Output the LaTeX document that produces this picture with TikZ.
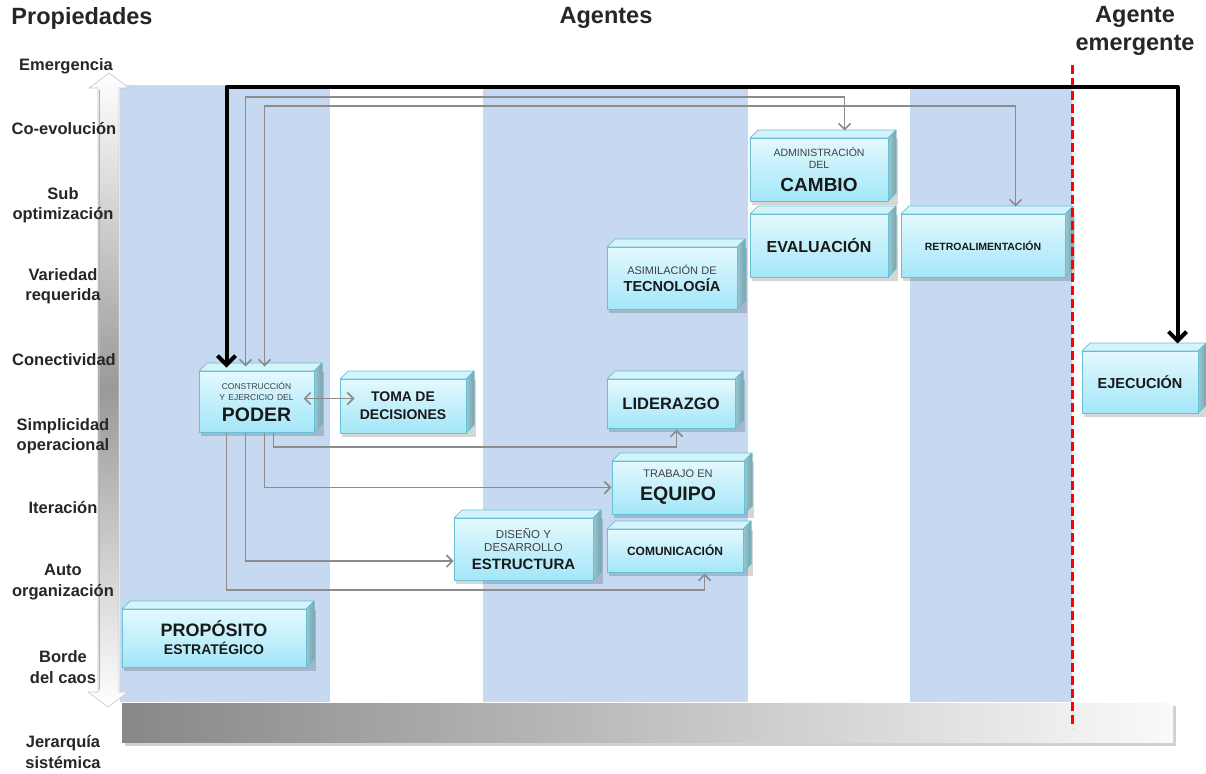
\documentclass[tikz,border=0pt]{standalone}
\usepackage{fontspec}
\setmainfont{Liberation Sans}
\usetikzlibrary{arrows.meta,calc}

\definecolor{colbg}{RGB}{198,217,240}
\definecolor{facetop}{RGB}{228,249,254}
\definecolor{facebot}{RGB}{163,230,248}
\definecolor{faceedge}{RGB}{104,192,214}
\definecolor{sidecol}{RGB}{152,202,212}
\definecolor{topcol}{RGB}{212,244,251}
\definecolor{linkgray}{RGB}{140,140,140}
\definecolor{txtdark}{RGB}{25,25,25}

\newcommand\fs[2]{\fontsize{#1}{#2}\selectfont}

% 3D box: name, x1, y1, x2, y2 (front face), content
\newcommand\cubebox[6]{%
  \pgfmathsetmacro\cbw{#4-#2}%
  \pgfmathsetmacro\cbh{#5-#3}%
  \fill[black,opacity=0.16] ({#2+2},{#3+1}) rectangle ({#4+10},{#5+4});
  \filldraw[cubetopface] (#2,#3) -- ({#2+8},{#3-8}) -- ({#4+8},{#3-8}) -- (#4,#3) -- cycle;
  \filldraw[cubesideface] (#4,#3) -- ({#4+8},{#3-8}) -- ({#4+8},{#5-8}) -- (#4,#5) -- cycle;
  \node[cubeface, minimum width=\cbw pt, minimum height=\cbh pt, text width=\cbw pt-2pt]
    (#1) at ({(#2+#4)/2},{(#3+#5)/2}) {#6\par};
}

\tikzset{
  cubetopface/.style={fill=topcol, draw=faceedge, line width=0.7pt, line join=round},
  cubesideface/.style={left color=sidecol, right color=sidecol!80!black, draw=faceedge, line width=0.7pt, line join=round},
  cubeface/.style={rectangle, top color=facetop, bottom color=facebot, draw=faceedge,
    line width=1pt, inner sep=0pt, align=center, text=txtdark},
  hdr/.style={font=\fs{23.5}{28}\bfseries, text=black!85, align=center, inner sep=0pt},
  prop/.style={font=\fs{16.5}{20.5}\bfseries, text=black!85, align=center, inner sep=0pt},
  link/.style={draw=linkgray, line width=1.6pt},
  linkarrow/.style={link, -{Straight Barb[length=6pt,width=12pt]}},
  linkboth/.style={link, {Straight Barb[length=6pt,width=12pt]}-{Straight Barb[length=6pt,width=12pt]}},
  mainlink/.style={draw=black, line width=4pt, line join=round,
    {Straight Barb[length=9pt,width=18pt]}-{Straight Barb[length=9pt,width=18pt]}},
}

\begin{document}
\begin{tikzpicture}[x=1pt,y=-1pt]
\useasboundingbox[fill=white] (0,0) rectangle (1206,773);

% agent bands
\fill[colbg] (120,85) rectangle (330,702);
\fill[colbg] (483,85) rectangle (748,702);
\fill[colbg] (910,85) rectangle (1072,702);

% property axis (double arrow)
\shade[top color=white, bottom color=white, middle color=black!40, draw=black!22, line width=0.6pt]
  (109,73) -- (129,88) -- (119,88) -- (119,692) -- (128,692) -- (108,707)
  -- (88,692) -- (98,692) -- (98,88) -- (89,88) -- cycle;
\draw[black!30, line width=1pt] (99,90) -- (99,690);

% hierarchy bar
\fill[black,opacity=0.18] (125,706) rectangle (1176,746);
\shade[left color=black!47, right color=black!2] (122,703) rectangle (1173,742);

% headers
\node[hdr] (hprop) at (82,18) {Propiedades};
\node[hdr] (hagent) at (606,18) {Agentes};
\node[hdr] (hemerg) at (1135,31) {Agente\\emergente};

% properties
\node[prop] (p1) at (66,66) {Emergencia};
\node[prop] (p2) at (64,129) {Co-evolución};
\node[prop] (p3) at (63,205) {Sub\\optimización};
\node[prop] (p4) at (63,286) {Variedad\\requerida};
\node[prop] (p5) at (64,360) {Conectividad};
\node[prop] (p6) at (63,436) {Simplicidad\\operacional};
\node[prop] (p7) at (63,508) {Iteración};
\node[prop] (p8) at (63,582) {Auto\\organización};
\node[prop] (p9) at (63,667) {Borde\\del caos};
\node[prop] (p10) at (63,752) {Jerarquía\\sistémica};

% agents
\cubebox{poder}{199}{371}{314}{432}{{\fs{8.5}{11}\color{black!75}CONSTRUCCIÓN\par Y EJERCICIO DEL\par}{\fs{19.5}{21}\bfseries PODER\par}}
\cubebox{toma}{340}{379}{466}{433}{\fs{14}{18}\bfseries TOMA DE\par DECISIONES}
\cubebox{lider}{607}{379}{735}{428}{\fs{16.5}{18}\bfseries LIDERAZGO}
\cubebox{equipo}{612}{461}{744}{514}{{\fs{11}{13}\color{black!75}TRABAJO EN\par}{\fs{19.5}{23}\bfseries EQUIPO\par}}
\cubebox{comun}{607}{529}{743}{572}{\fs{12}{14}\bfseries COMUNICACIÓN}
\cubebox{estruct}{454}{518}{593}{580}{{\fs{11.5}{13}\color{black!75}DISEÑO Y\par DESARROLLO\par}{\fs{15}{18}\bfseries ESTRUCTURA\par}}
\cubebox{tecno}{607}{247}{737}{309}{{\fs{11}{13}\color{black!75}ASIMILACIÓN DE\par}{\fs{14.5}{17}\bfseries TECNOLOGÍA\par}}
\cubebox{cambio}{750}{138}{888}{201}{{\fs{10.5}{12.5}\color{black!75}ADMINISTRACIÓN\par DEL\par}{\fs{19}{23}\bfseries CAMBIO\par}}
\cubebox{evalua}{750}{214}{888}{277}{\fs{16}{18}\bfseries EVALUACIÓN}
\cubebox{retro}{901}{214}{1065}{277}{\fs{10.5}{12}\bfseries RETROALIMENTACIÓN}
\cubebox{ejec}{1082}{351}{1198}{413}{\fs{14.5}{16}\bfseries EJECUCIÓN}
\cubebox{propo}{122}{609}{306}{667}{{\fs{18}{20}\bfseries PROPÓSITO\par}{\fs{14}{18}\bfseries ESTRATÉGICO\par}}

% emergence boundary
\draw[red, line width=3pt, dash pattern=on 9pt off 4pt] (1072,65) -- (1072,728);

% route levels
\coordinate (lvlK) at (0,87);
\coordinate (lvlC) at (0,97);
\coordinate (lvlR) at (0,106);
\coordinate (lvlL) at (0,447);
\coordinate (lvlM) at (0,590);

% connector ends
\coordinate (pK) at ([xshift=28pt,yshift=3pt]poder.north west);
\coordinate (eK) at ([xshift=-21pt,yshift=7pt]ejec.north east);
\coordinate (pC) at ([xshift=47pt,yshift=4pt]poder.north west);
\coordinate (cC) at ([xshift=95pt,yshift=7pt]cambio.north west);
\coordinate (pR) at ([xshift=66pt,yshift=4pt]poder.north west);
\coordinate (rR) at ([xshift=115pt,yshift=7pt]retro.north west);
\coordinate (pL) at ([xshift=75pt]poder.south west);
\coordinate (tL) at ([xshift=70pt,yshift=-1pt]lider.south west);
\coordinate (pE) at ([xshift=66pt]poder.south west);
\coordinate (pS) at ([xshift=47pt]poder.south west);
\coordinate (tS) at ([yshift=-12pt]estruct.west);
\coordinate (pM) at ([xshift=28pt]poder.south west);
\coordinate (tM) at ([xshift=98pt,yshift=-1pt]comun.south west);
\coordinate (pT) at ([xshift=-11pt,yshift=3pt]poder.east);
\coordinate (tT) at ($(pT -| toma.west)+(15,0)$);

% connectors
\draw[mainlink] (pK) |- (eK |- lvlK) -- (eK);
\draw[linkboth] (pC) |- (cC |- lvlC) -- (cC);
\draw[linkboth] (pR) |- (rR |- lvlR) -- (rR);
\draw[linkboth] (pT) -- (tT);
\draw[linkarrow] (pL) |- (tL |- lvlL) -- (tL);
\draw[linkarrow] (pE) |- (equipo.west);
\draw[linkarrow] (pS) |- (tS);
\draw[linkarrow] (pM) |- (tM |- lvlM) -- (tM);
\end{tikzpicture}
\end{document}
